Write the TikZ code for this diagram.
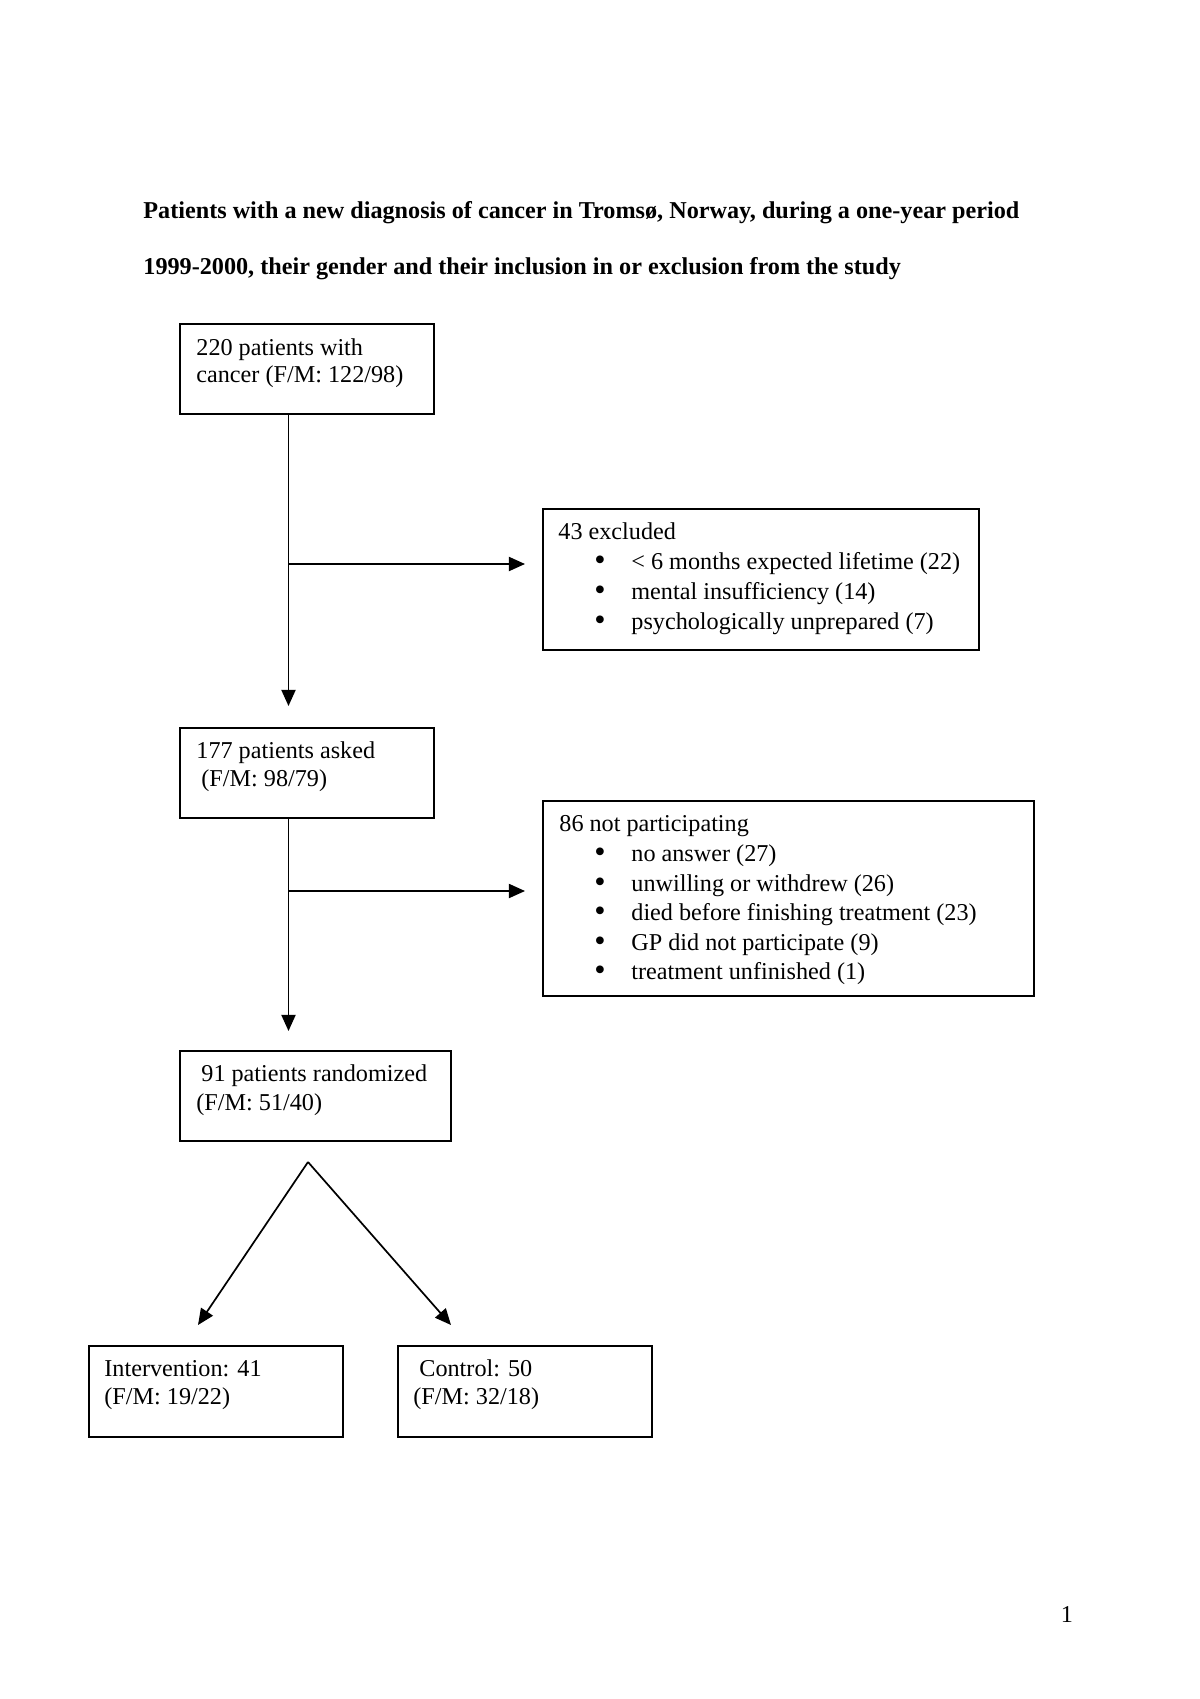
\documentclass[tikz,border=0pt]{standalone}
\usepackage{fontspec}
\setmainfont{Liberation Serif}
\usetikzlibrary{arrows.meta,fit}
\begin{document}
\begin{tikzpicture}[x=0.49606pt,y=-0.49606pt,
  box/.style={draw, line width=1pt, inner sep=0pt},
  txt/.style={anchor=base west, inner sep=0pt, font=\fontsize{12}{14}\selectfont},
  ttl/.style={anchor=base west, inner sep=0pt, font=\fontsize{12}{14}\selectfont\bfseries},
  bul/.style={anchor=base, inner sep=0pt, font=\fontsize{16}{18}\selectfont},
  pgn/.style={anchor=base, inner sep=0pt, font=\fontsize{12}{14}\selectfont},
  arr/.style={line width=0.85pt, -{Triangle[length=8pt,width=7pt]}}]
\useasboundingbox (0,0) rectangle (1200,1699);
\fill[white] (0,0) rectangle (1200,1699);
% title
\node[ttl] (ttl1) at (143,219) {Patients with a new diagnosis of cancer in Tromsø, Norway, during a one-year period};
\node[ttl] (ttl2) at (143,275) {1999-2000, their gender and their inclusion in or exclusion from the study};
% boxes
\node[box, fit={(180,324)(434,414)}] (b1) {};
\node[box, fit={(543,509)(979,650)}] (ex) {};
\node[box, fit={(180,728)(434,818)}] (b2) {};
\node[box, fit={(543,801)(1034,996)}] (np) {};
\node[box, fit={(180,1051)(451,1141)}] (b3) {};
\node[box, fit={(89,1346)(343,1437)}] (iv) {};
\node[box, fit={(398,1346)(652,1437)}] (ct) {};
% box texts
\node[txt] (b1a) at (196,355) {220 patients with};
\node[txt] (b1b) at (196,382) {cancer (F/M: 122/98)};
\node[txt] (exa) at (558,539) {43 excluded};
\node[bul] (exb1) at (600,570) {\textbullet};
\node[txt] (exi1) at (631,569) {< 6 months expected lifetime (22)};
\node[bul] (exb2) at (600,600) {\textbullet};
\node[txt] (exi2) at (631,599) {mental insufficiency (14)};
\node[bul] (exb3) at (600,630) {\textbullet};
\node[txt] (exi3) at (631,629) {psychologically unprepared (7)};
\node[txt] (b2a) at (196,758) {177 patients asked};
\node[txt] (b2b) at (201,786) {(F/M: 98/79)};
\node[txt] (npa) at (559,831) {86 not participating};
\node[bul] (npb1) at (600,862) {\textbullet};
\node[txt] (npi1) at (631,861) {no answer (27)};
\node[bul] (npb2) at (600,892) {\textbullet};
\node[txt] (npi2) at (631,891) {unwilling or withdrew (26)};
\node[bul] (npb3) at (600,921) {\textbullet};
\node[txt] (npi3) at (631,920) {died before finishing treatment (23)};
\node[bul] (npb4) at (600,951) {\textbullet};
\node[txt] (npi4) at (631,950) {GP did not participate (9)};
\node[bul] (npb5) at (600,980) {\textbullet};
\node[txt] (npi5) at (631,979) {treatment unfinished (1)};
\node[txt] (b3a) at (201,1081) {91 patients randomized};
\node[txt] (b3b) at (196,1110) {(F/M: 51/40)};
\node[txt] (iva) at (104,1376) {Intervention: 41};
\node[txt] (ivb) at (104,1404) {(F/M: 19/22)};
\node[txt] (cta) at (419,1376) {Control: 50};
\node[txt] (ctb) at (413,1404) {(F/M: 32/18)};
\node[pgn] (pg) at (1067,1622) {1};
% connectors
\coordinate (c1) at (288.5,706);
\coordinate (j1) at (288.5,564);
\coordinate (t1) at (525,564);
\coordinate (c2) at (288.5,1031);
\coordinate (j2) at (288.5,891);
\coordinate (t2) at (525,891);
\coordinate (ap) at (308,1162);
\coordinate (tl) at (198,1325);
\coordinate (tr) at (451,1325);
\draw[arr] (b1.south -| c1) -- (c1);
\draw[arr] (j1) -- (t1);
\draw[arr] (b2.south -| c2) -- (c2);
\draw[arr] (j2) -- (t2);
\draw[arr] (ap) -- (tl);
\draw[arr] (ap) -- (tr);
\end{tikzpicture}
\end{document}
